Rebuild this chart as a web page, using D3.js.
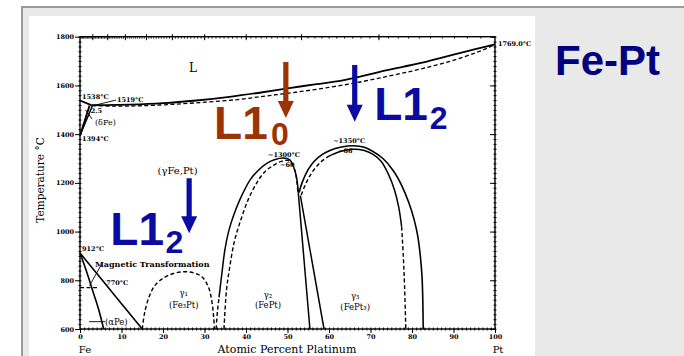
<!DOCTYPE html>
<html>
<head>
<meta charset="utf-8">
<script src="https://cdn.jsdelivr.net/npm/d3@7"></script>
<style>
  body { margin: 0; background: #fff; }
  svg { display: block; }
</style>
</head>
<body>
<svg id="chart" width="684" height="356"></svg>
<script>
// ---- axis values ----
const xTicks = [0, 10, 20, 30, 40, 50, 60, 70, 80, 90, 100];
const yTicks = [600, 800, 1000, 1200, 1400, 1600, 1800];
const wtTicks = [10, 20, 30, 40, 50, 60, 70, 80, 90];   // weight percent Pt (top axis)

// ---- phase boundaries: [atomic % Pt, temperature °C] ----
const liquidus = [[2.7,1519],[6,1519],[12,1521],[20,1527],[28,1538],[36,1553],[44,1572],[50,1588],[57,1605],[63,1620],[67.5,1636],[72,1655],[78,1677],[84,1700],[90,1726],[95,1748],[100,1769]];
const solidus = [[3,1517],[8,1515],[14,1516],[22,1522],[30,1531],[38,1542],[45,1557],[52,1572],[60,1592],[67.5,1614],[74,1637],[80,1659],[85,1680],[90,1703],[95,1732],[98,1752],[100,1769]];
const deltaLiquidus = [[0,1538],[2.7,1519]];
const deltaSolvus = [[0,1394],[2.3,1517]];
const gammaDeltaBoundary = [[0,1394],[3.0,1517]];
const gammaAlphaBoundary = [[0,912],[5,808],[10,704],[15,600]];
const alphaBoundary = [[0,912],[1.5,840],[3,760],[4.5,680],[5.7,600]];
const curieLine = [[0,770],[4.5,770]];
const gamma1Dome = [[15,600],[15.5,660],[16.5,725],[18,778],[20,808],[22.5,828],[25,835],[27.5,830],[29.5,812],[31,770],[31.8,710],[32.2,650],[32.4,600]];
const gamma2OuterLow = [[32.8,600],[33.1,670],[33.5,730]];
const gamma2Outer = [[33.5,730],[34.2,830],[34.9,924],[35.8,1000],[36.9,1061],[38.5,1130],[41,1212],[43,1252],[45,1280],[47,1296],[49,1302],[50.5,1295],[51.5,1265],[52.2,1220],[52.6,1160]];
const gamma2Inner = [[34.7,600],[35.3,760],[36.1,856],[37.2,960],[38.6,1040],[40.5,1130],[42.6,1200],[44.5,1245],[46.6,1272],[48.5,1288],[50,1292],[51,1280],[51.8,1250],[52.3,1200],[52.5,1160]];
const gamma2RightA = [[52.6,1160],[55.4,600]];
const gamma2RightB = [[53.1,1148],[58.8,600]];
const gamma3Outer = [[52.8,1160],[53.5,1200],[55,1255],[56.5,1290],[58.5,1318],[60.5,1335],[63,1347],[66,1352],[68.5,1346],[70.5,1330],[73,1300],[75.5,1250],[77.5,1190],[79.2,1120],[80.5,1050],[81.4,980],[82,900],[82.4,820],[82.6,720],[82.7,600]];
const gamma3InnerLeft = [[53.3,1150],[54.5,1200],[56,1245],[58,1285],[60,1310]];
const gamma3InnerTop = [[60,1310],[62.5,1328],[65.5,1338],[68.5,1333],[70.5,1318],[72.5,1290],[74.2,1240],[75.8,1170],[76.8,1100],[77.5,1020]];
const gamma3InnerRight = [[77.5,1020],[77.9,900],[78.2,780],[78.5,600]];

// ---- layout ----
const svg = d3.select("#chart");
const x = d3.scaleLinear().domain([0, 100]).range([80, 495]);
const y = d3.scaleLinear().domain([600, 1800]).range([329, 36.7]);

// slide background
svg.append("rect").attr("x", 22).attr("y", 7).attr("width", 700).attr("height", 400)
  .attr("fill", "#e9e9e9").attr("stroke", "#9a9a9a").attr("stroke-width", 2);
svg.append("rect").attr("x", 29).attr("y", 16).attr("width", 506).attr("height", 345).attr("fill", "#fff");

const serif = "DejaVu Serif, serif";
const sans = "Liberation Sans, Arial, sans-serif";

// ---- axes ----
function styleAxis(g) {
  g.select(".domain").remove();
  g.selectAll("line").attr("stroke", "#000").attr("stroke-width", 1);
  g.selectAll("text").attr("font-family", serif).attr("font-size", 6.5)
    .attr("font-weight", "bold").attr("fill", "#000");
}

// frame
svg.append("rect").attr("x", x(0)).attr("y", y(1800))
  .attr("width", x(100) - x(0)).attr("height", y(600) - y(1800))
  .attr("fill", "none").attr("stroke", "#000").attr("stroke-width", 1.4);

// bottom axis: majors outward with labels, minors straddling
svg.append("g").attr("transform", `translate(0,${y(600)})`)
  .call(d3.axisBottom(x).tickValues(xTicks).tickSize(4).tickPadding(1.5).tickFormat(d3.format("d")))
  .call(styleAxis);
svg.append("g").attr("transform", `translate(0,${y(600) - 1.5})`)
  .call(d3.axisBottom(x).tickValues(d3.range(0, 101, 1)).tickSize(3).tickFormat(""))
  .call(styleAxis);

// left axis
svg.append("g").attr("transform", `translate(${x(0)},0)`)
  .call(d3.axisLeft(y).tickValues(yTicks).tickSize(5).tickPadding(1).tickFormat(d3.format("d")))
  .call(styleAxis);
svg.append("g").attr("transform", `translate(${x(0) + 1.5},0)`)
  .call(d3.axisLeft(y).tickValues(d3.range(600, 1801, 20)).tickSize(3).tickFormat(""))
  .call(styleAxis);

// right axis: majors point inward
svg.append("g").attr("transform", `translate(${x(100)},0)`)
  .call(d3.axisLeft(y).tickValues(yTicks).tickSize(5).tickFormat(""))
  .call(styleAxis);
svg.append("g").attr("transform", `translate(${x(100) + 1.5},0)`)
  .call(d3.axisLeft(y).tickValues(d3.range(600, 1801, 20)).tickSize(3).tickFormat(""))
  .call(styleAxis);

// top axis in weight percent, converted to atomic percent
const mFe = 55.845, mPt = 195.08;
const wtToAt = w => 100 * (w / mPt) / (w / mPt + (100 - w) / mFe);
const xw = w => x(wtToAt(w));
const topG = svg.append("g").attr("transform", `translate(0,${y(1800)})`);
topG.selectAll("line.maj").data(wtTicks).join("line").attr("class", "maj")
  .attr("x1", xw).attr("x2", xw).attr("y1", -2.5).attr("y2", 3.5)
  .attr("stroke", "#000").attr("stroke-width", 1);
topG.selectAll("line.min").data(d3.range(1, 100, 1)).join("line").attr("class", "min")
  .attr("x1", xw).attr("x2", xw).attr("y1", -0.5).attr("y2", 2)
  .attr("stroke", "#000").attr("stroke-width", 0.8);

// axis titles
svg.append("text").attr("x", 287).attr("y", 353).attr("text-anchor", "middle")
  .attr("font-family", serif).attr("font-size", 11).text("Atomic Percent Platinum");
svg.append("text").attr("x", 85).attr("y", 353).attr("text-anchor", "middle")
  .attr("font-family", serif).attr("font-size", 10).text("Fe");
svg.append("text").attr("x", 498).attr("y", 353).attr("text-anchor", "middle")
  .attr("font-family", serif).attr("font-size", 10).text("Pt");
svg.append("text").attr("transform", "translate(44,180) rotate(-90)").attr("text-anchor", "middle")
  .attr("font-family", serif).attr("font-size", 10.5).text("Temperature °C");

// ---- phase boundary curves ----
const line = d3.line().x(d => x(d[0])).y(d => y(d[1])).curve(d3.curveCatmullRom.alpha(0.5));
const curves = [
  [liquidus, false, 1.8], [solidus, true, 1.3],
  [deltaLiquidus, false, 1.8], [deltaSolvus, false, 1.8], [gammaDeltaBoundary, false, 1.4],
  [gammaAlphaBoundary, false, 1.6], [alphaBoundary, false, 1.6], [curieLine, true, 1.1],
  [gamma1Dome, true, 1.4],
  [gamma2OuterLow, true, 1.4], [gamma2Outer, false, 1.5], [gamma2Inner, true, 1.4],
  [gamma2RightA, false, 1.5], [gamma2RightB, false, 1.5],
  [gamma3Outer, false, 1.6], [gamma3InnerLeft, true, 1.4], [gamma3InnerTop, false, 1.5], [gamma3InnerRight, true, 1.4]
];
svg.append("g").selectAll("path").data(curves).join("path")
  .attr("d", d => line(d[0]))
  .attr("fill", "none").attr("stroke", "#000")
  .attr("stroke-width", d => d[2])
  .attr("stroke-dasharray", d => d[1] ? "4,2.5" : null);

// leader lines
const leaders = [
  [[2.9, 1516], [8.7, 1540]],
  [[1.3, 1500], [2.9, 1462]],
  [[5.2, 866], [2.3, 778]],
  [[2.2, 630], [6.0, 630]]
];
svg.append("g").selectAll("line").data(leaders).join("line")
  .attr("x1", d => x(d[0][0])).attr("y1", d => y(d[0][1]))
  .attr("x2", d => x(d[1][0])).attr("y2", d => y(d[1][1]))
  .attr("stroke", "#000").attr("stroke-width", 0.9);

// ---- annotations ----
const notes = [
  ["L", 27.2, 1671, 12, "middle"],
  ["1538°C", 0.5, 1553, 6.5, "start"],
  ["1519°C", 8.9, 1542, 6.5, "start"],
  ["2.5", 2.6, 1495, 6.5, "start"],
  ["(δFe)", 3.6, 1450, 8, "start"],
  ["1394°C", 0.5, 1380, 6.5, "start"],
  ["(γFe,Pt)", 23.5, 1250, 10, "middle"],
  ["912°C", 0.5, 930, 6.5, "start"],
  ["770°C", 6.3, 788, 6.5, "start"],
  ["(αPe)", 6.0, 629, 8.5, "start"],
  ["γ₁", 25, 748, 8.5, "middle"],
  ["(Fe₃Pt)", 25, 699, 8.5, "middle"],
  ["γ₂", 45.3, 740, 8.5, "middle"],
  ["(FePt)", 45.3, 699, 8.5, "middle"],
  ["γ₃", 66.3, 736, 8.5, "middle"],
  ["(FePt₃)", 66.3, 692, 8.5, "middle"],
  ["~1300°C", 45.3, 1315, 6.5, "start"],
  ["~60", 48.2, 1275, 6.5, "start"],
  ["~1350°C", 61, 1371, 6.5, "start"],
  ["~66", 62.2, 1332, 6.5, "start"],
  ["1769.0°C", 100.7, 1773, 6.5, "start"]
];
svg.append("g").selectAll("text").data(notes).join("text")
  .attr("x", d => x(d[1])).attr("y", d => y(d[2]))
  .attr("dy", "0.35em")
  .attr("text-anchor", d => d[4])
  .attr("font-family", serif).attr("font-size", d => d[3])
  .attr("font-weight", d => d[3] < 7 ? "bold" : "normal")
  .attr("fill", "#000").text(d => d[0]);
svg.append("text").attr("x", x(3.6)).attr("y", y(864)).attr("dy", "0.35em")
  .attr("font-family", serif).attr("font-size", 8).attr("font-weight", "bold")
  .text("Magnetic Transformation");

// ---- structure labels with arrows ----
const blue = "#0b0ba3", brown = "#9c3306";
const structLabels = [
  // [main, sub, x, baseline T, sub x, sub baseline T, colour]
  ["L1", "0", 32.3, 1378, 46.0, 1356, brown],
  ["L1", "2", 7.3, 945, 20.6, 910, blue],
  ["L1", "2", 70.9, 1458, 84.3, 1421, blue]
];
structLabels.forEach(([m, s, xm, tm, xs, ts, c]) => {
  svg.append("text").attr("x", x(xm)).attr("y", y(tm))
    .attr("font-family", sans).attr("font-weight", "bold").attr("font-size", 46)
    .attr("fill", c).text(m);
  svg.append("text").attr("x", x(xs)).attr("y", y(ts))
    .attr("font-family", sans).attr("font-weight", "bold").attr("font-size", 32)
    .attr("fill", c).text(s);
});

const arrows = [
  // [x, top T, tip T, colour]
  [49.6, 1696, 1466, brown],
  [66.2, 1684, 1451, blue],
  [26.3, 1219, 993, blue]
];
arrows.forEach(([ax, t0, t1, c]) => {
  const cx = x(ax), y0 = y(t0), y1 = y(t1);
  const hw = 8, hl = 17, sw = 2.6;
  const p = `M${cx - sw},${y0} L${cx + sw},${y0} L${cx + sw},${y1 - hl} L${cx + hw},${y1 - hl} L${cx},${y1} L${cx - hw},${y1 - hl} L${cx - sw},${y1 - hl} Z`;
  svg.append("path").attr("d", p).attr("fill", c);
});

// system title
svg.append("text").attr("x", 555).attr("y", 75)
  .attr("font-family", sans).attr("font-weight", "bold").attr("font-size", 42)
  .attr("fill", "#000080").text("Fe-Pt");
</script>
</body>
</html>
